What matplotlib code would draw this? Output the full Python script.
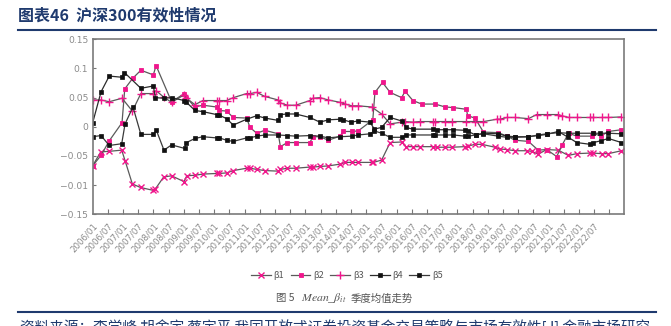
import matplotlib
matplotlib.use("Agg")
import matplotlib.pyplot as plt
from matplotlib.lines import Line2D

plt.rcParams['font.family'] = ['Noto Sans CJK SC', 'DejaVu Sans']
plt.rcParams['mathtext.fontset'] = 'stix'
plt.rcParams['axes.unicode_minus'] = True

# ---- data: (decimal year, mean beta) ----
b1_t = [2006.00, 2006.27, 2006.55, 2006.96, 2007.07, 2007.31, 2007.58, 2008.00, 2008.06, 2008.34,
        2008.60, 2009.01, 2009.10, 2009.37, 2009.63, 2010.08, 2010.17, 2010.41, 2010.63, 2011.07,
        2011.18, 2011.40, 2011.67, 2012.11, 2012.18, 2012.41, 2012.68, 2013.15, 2013.25, 2013.48,
        2013.76, 2014.14, 2014.31, 2014.53, 2014.74, 2015.18, 2015.24, 2015.51, 2015.79, 2016.17,
        2016.31, 2016.55, 2016.77, 2017.21, 2017.32, 2017.60, 2017.82, 2018.25, 2018.36, 2018.58,
        2018.80, 2019.24, 2019.40, 2019.63, 2019.90, 2020.28, 2020.45, 2020.66, 2020.94, 2021.32,
        2021.65, 2021.93, 2022.37, 2022.47, 2022.75, 2022.97, 2023.40]
b1_v = [-0.067, -0.043, -0.042, -0.040, -0.058, -0.098, -0.104, -0.109, -0.107, -0.086,
        -0.084, -0.094, -0.084, -0.083, -0.081, -0.080, -0.080, -0.079, -0.075, -0.071,
        -0.071, -0.073, -0.075, -0.076, -0.073, -0.071, -0.071, -0.069, -0.069, -0.068,
        -0.067, -0.064, -0.061, -0.061, -0.061, -0.061, -0.061, -0.057, -0.027, -0.026,
        -0.034, -0.034, -0.034, -0.034, -0.035, -0.035, -0.035, -0.034, -0.033, -0.030,
        -0.030, -0.035, -0.038, -0.039, -0.041, -0.041, -0.042, -0.047, -0.039, -0.040,
        -0.049, -0.046, -0.045, -0.045, -0.046, -0.046, -0.041]

b2_t = [2006.00, 2006.28, 2006.55, 2006.97, 2007.06, 2007.32, 2007.59, 2008.00, 2008.09, 2008.60,
        2009.02, 2009.09, 2009.37, 2009.63, 2010.08, 2010.17, 2010.41, 2010.63, 2011.07, 2011.18,
        2011.40, 2011.67, 2012.11, 2012.18, 2012.41, 2012.68, 2013.15, 2013.25, 2013.48, 2013.76,
        2014.14, 2014.25, 2014.53, 2014.74, 2015.22, 2015.29, 2015.54, 2015.79, 2016.17, 2016.28,
        2016.54, 2016.83, 2017.27, 2017.60, 2017.87, 2018.30, 2018.34, 2018.58, 2018.86, 2019.35,
        2019.63, 2019.90, 2020.34, 2020.66, 2020.94, 2021.27, 2021.45, 2021.66, 2021.93, 2022.42,
        2022.47, 2022.72, 2022.97, 2023.40]
b2_v = [-0.067, -0.049, -0.024, 0.007, 0.065, 0.083, 0.097, 0.089, 0.105, 0.043,
        0.057, 0.050, 0.034, 0.037, 0.034, 0.028, 0.027, 0.016, 0.015, -0.001,
        -0.011, -0.006, -0.012, -0.034, -0.027, -0.027, -0.027, -0.017, -0.017, -0.023,
        -0.016, -0.008, -0.008, -0.007, 0.012, 0.059, 0.076, 0.059, 0.050, 0.061,
        0.045, 0.039, 0.039, 0.034, 0.033, 0.030, 0.019, 0.015, -0.009, -0.010,
        -0.016, -0.023, -0.025, -0.040, -0.039, -0.051, -0.031, -0.011, -0.016, -0.016,
        -0.011, -0.016, -0.008, -0.005]

b3_t = [2006.00, 2006.28, 2006.55, 2006.97, 2007.31, 2007.59, 2008.00, 2008.09, 2008.34, 2008.60,
        2009.02, 2009.09, 2009.37, 2009.63, 2010.08, 2010.17, 2010.41, 2010.63, 2011.07, 2011.18,
        2011.40, 2011.67, 2012.11, 2012.18, 2012.41, 2012.68, 2013.15, 2013.25, 2013.48, 2013.76,
        2014.14, 2014.31, 2014.53, 2014.74, 2015.18, 2015.51, 2015.79, 2016.17, 2016.28, 2016.55,
        2016.77, 2017.21, 2017.27, 2017.60, 2017.82, 2018.30, 2018.58, 2018.86, 2019.30, 2019.40,
        2019.63, 2019.90, 2020.34, 2020.61, 2020.94, 2021.32, 2021.43, 2021.67, 2021.93, 2022.37,
        2022.47, 2022.75, 2022.97, 2023.40]
b3_v = [0.046, 0.046, 0.043, 0.049, 0.027, 0.057, 0.057, 0.062, 0.051, 0.042,
        0.055, 0.049, 0.038, 0.045, 0.045, 0.045, 0.045, 0.050, 0.057, 0.057,
        0.059, 0.052, 0.046, 0.041, 0.037, 0.037, 0.045, 0.049, 0.050, 0.046,
        0.042, 0.039, 0.036, 0.036, 0.034, 0.022, 0.005, 0.008, 0.009, 0.008,
        0.009, 0.009, 0.009, 0.009, 0.009, 0.009, 0.009, 0.009, 0.013, 0.013,
        0.016, 0.016, 0.014, 0.021, 0.021, 0.021, 0.019, 0.016, 0.016, 0.016,
        0.016, 0.016, 0.016, 0.017]

b4_t = [2006.00, 2006.28, 2006.55, 2006.96, 2007.05, 2007.59, 2008.00, 2008.07, 2008.34, 2008.60,
        2009.02, 2009.09, 2009.37, 2009.63, 2010.08, 2010.17, 2010.41, 2010.63, 2011.07, 2011.40,
        2011.67, 2012.11, 2012.18, 2012.41, 2012.68, 2013.15, 2013.48, 2013.76, 2014.14, 2014.25,
        2014.50, 2014.74, 2015.13, 2015.27, 2015.51, 2015.79, 2016.17, 2016.31, 2016.53, 2017.21,
        2017.32, 2017.60, 2017.87, 2018.25, 2018.36, 2018.60, 2018.86, 2019.35, 2019.63, 2019.90,
        2020.34, 2020.66, 2020.94, 2021.32, 2021.65, 2021.93, 2022.37, 2022.47, 2022.72, 2022.97,
        2023.40]
b4_v = [0.006, 0.060, 0.087, 0.085, 0.093, 0.066, 0.070, 0.050, 0.049, 0.050,
        0.045, 0.042, 0.028, 0.026, 0.021, 0.020, 0.014, 0.003, 0.013, 0.019,
        0.015, 0.011, 0.021, 0.022, 0.022, 0.016, 0.008, 0.012, 0.013, 0.012,
        0.008, 0.010, 0.008, -0.004, -0.001, 0.016, 0.010, -0.001, -0.004, -0.004,
        -0.005, -0.005, -0.005, -0.006, -0.008, -0.014, -0.011, -0.012, -0.016, -0.017,
        -0.017, -0.015, -0.013, -0.008, -0.018, -0.027, -0.030, -0.027, -0.024, -0.020,
        -0.027]

b5_t = [2006.00, 2006.28, 2006.55, 2006.96, 2007.07, 2007.33, 2007.59, 2008.00, 2008.10, 2008.35,
        2008.60, 2009.03, 2009.09, 2009.37, 2009.63, 2010.08, 2010.17, 2010.41, 2010.63, 2011.07,
        2011.18, 2011.40, 2011.67, 2012.11, 2012.41, 2012.68, 2013.15, 2013.48, 2013.76, 2014.14,
        2014.53, 2014.74, 2015.13, 2015.27, 2015.51, 2015.79, 2016.17, 2016.31, 2016.53, 2017.21,
        2017.27, 2017.60, 2017.87, 2018.25, 2018.36, 2018.60, 2018.86, 2019.35, 2019.63, 2019.90,
        2020.34, 2020.66, 2020.94, 2021.32, 2021.65, 2021.93, 2022.47, 2022.69, 2022.97, 2023.40]
b5_v = [-0.017, -0.015, -0.032, -0.029, 0.005, 0.034, -0.013, -0.013, -0.006, -0.040,
        -0.031, -0.037, -0.027, -0.020, -0.017, -0.019, -0.019, -0.023, -0.025, -0.019,
        -0.019, -0.016, -0.014, -0.014, -0.015, -0.016, -0.015, -0.016, -0.019, -0.017,
        -0.016, -0.014, -0.012, -0.007, -0.011, -0.018, -0.018, -0.014, -0.014, -0.014,
        -0.014, -0.014, -0.014, -0.016, -0.016, -0.014, -0.012, -0.016, -0.018, -0.018,
        -0.017, -0.014, -0.012, -0.010, -0.011, -0.011, -0.011, -0.011, -0.011, -0.012]

tick_labels = [f"{y}/{m:02d}" for y in range(2006, 2023) for m in (1, 7)]
y_ticks = [0.15, 0.1, 0.05, 0, -0.05, -0.1, -0.15]
y_tick_labels = ["0.15", "0.1", "0.05", "0", "\u22120.05", "\u22120.01", "\u22120.15"]

PINK = "#F0168C"
NAVY = "#1F3A6E"
GREY_TXT = "#8A8A8A"

fig = plt.figure(figsize=(6.71, 3.26), dpi=100)
ax = fig.add_axes([0.1379, 0.3426, 0.7928, 0.5368])

series = [
    ("β1", b1_t, b1_v, dict(color="#5a5a5a", marker="x", ms=4.5, mec=PINK, mfc=PINK, mew=1.0)),
    ("β2", b2_t, b2_v, dict(color="#5a5a5a", marker="s", ms=2.6, mec=PINK, mfc=PINK, mew=0.6)),
    ("β3", b3_t, b3_v, dict(color="#5a5a5a", marker="+", ms=6, mec=PINK, mfc=PINK, mew=1.0)),
    ("β4", b4_t, b4_v, dict(color="#2b2b2b", marker="s", ms=2.4, mec="#111111", mfc="#111111", mew=0.5)),
    ("β5", b5_t, b5_v, dict(color="#3a3a3a", marker="s", ms=2.4, mec="#111111", mfc="#111111", mew=0.5)),
]
handles = []
for name, t, v, st in series:
    ln, = ax.plot(t, v, lw=0.9, label=name, **st)
    handles.append(ln)

ax.set_xlim(2006.0, 2023.5)
ax.set_ylim(-0.15, 0.15)

# category labels sit at the start of each half-year, tick marks between them
ax.xaxis.remove_overlapping_locs = False
label_pos = [2006 + 0.5 * k for k in range(len(tick_labels))]
ax.set_xticks(label_pos)
ax.set_xticklabels(tick_labels, rotation=48, ha="right", va="top",
                   rotation_mode="anchor", fontsize=6.2, color=GREY_TXT,
                   family="DejaVu Sans")
ax.tick_params(axis="x", which="major", length=0, pad=5)
ax.set_xticks([2006.5 + 0.5 * k for k in range(len(tick_labels))], minor=True)
ax.tick_params(axis="x", which="minor", direction="in", length=3.5, width=0.8, color="#777777")

ax.set_yticks(y_ticks)
ax.set_yticklabels(y_tick_labels, fontsize=6.6, color=GREY_TXT, family="DejaVu Sans")
ax.tick_params(axis="y", direction="in", length=2.5, width=0.8, color="#777777", pad=3)

for sp in ax.spines.values():
    sp.set_color("#7a7a7a")
    sp.set_linewidth(1.2)

fig.legend(handles=handles, loc="center", bbox_to_anchor=(0.517, 0.155), ncol=5,
           frameon=False, fontsize=6.5, handlelength=2.2, handletextpad=0.3,
           columnspacing=0.7, labelcolor="#555555")

# heading and rules
fig.text(0.027, 0.952, "图表46  沪深300有效性情况", fontsize=11.5, fontweight="bold",
         color=NAVY, va="center", ha="left")
fig.add_artist(Line2D([0.027, 0.977], [0.908, 0.908], color=NAVY, lw=1.5))

# figure caption
fig.text(0.412, 0.085, "图 5", fontsize=7.5, color="#555555", va="center", ha="left")
fig.text(0.449, 0.085, r"$\mathit{Mean\_\beta_{it}}$", fontsize=8.5, color="#555555",
         va="center", ha="left")
fig.text(0.522, 0.085, "季度均值走势", fontsize=7.5, color="#555555", va="center", ha="left")

fig.add_artist(Line2D([0.027, 0.977], [0.043, 0.043], color=NAVY, lw=1.5))
fig.text(0.03, -0.005, "资料来源：李学峰 胡舍宇 蔡宇平 我国开放式证券投资基金交易策略与市场有效性[J] 金融市场研究",
         fontsize=10.5, color=NAVY, va="center", ha="left")

fig.savefig("out.png", dpi=100)
